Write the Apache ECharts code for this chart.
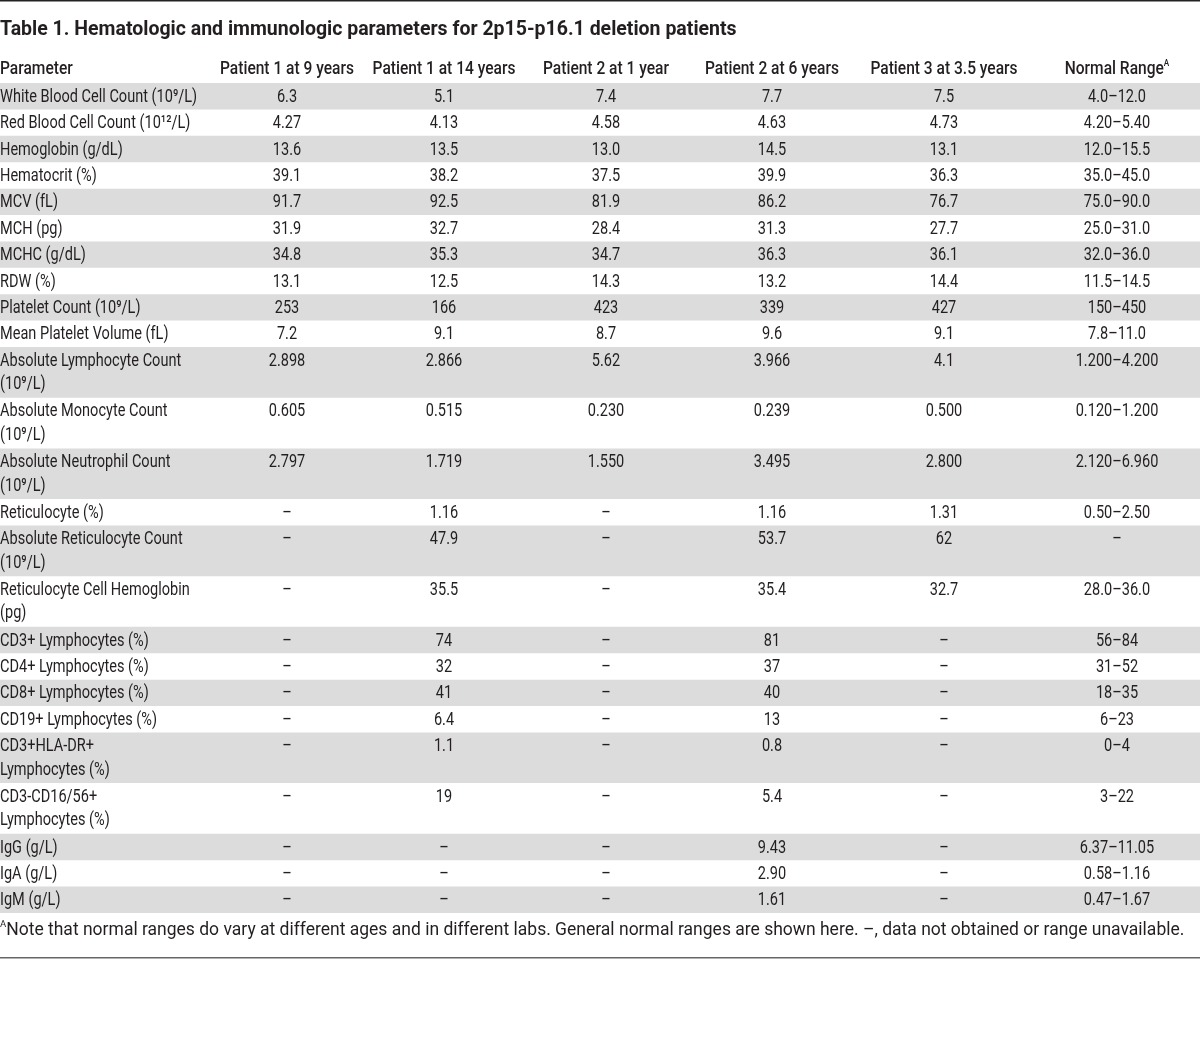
<!DOCTYPE html>
<html><head><meta charset="utf-8">
<script src="https://cdn.jsdelivr.net/npm/echarts/dist/echarts.min.js"></script>
<style>html,body{margin:0;padding:0;background:#fff}#c{width:1200px;height:1050px}</style>
</head><body><div id="c"></div>
<script>
// ---------- data ----------
const titleText = 'Table 1. Hematologic and immunologic parameters for 2p15-p16.1 deletion patients';
const columnHeaders = ['Parameter', 'Patient 1 at 9 years', 'Patient 1 at 14 years', 'Patient 2 at 1 year', 'Patient 2 at 6 years', 'Patient 3 at 3.5 years', 'Normal Range'];
const parameters = [
  'White Blood Cell Count (10\u2079/L)', 'Red Blood Cell Count (10\u00b9\u00b2/L)', 'Hemoglobin (g/dL)', 'Hematocrit (%)',
  'MCV (fL)', 'MCH (pg)', 'MCHC (g/dL)', 'RDW (%)', 'Platelet Count (10\u2079/L)', 'Mean Platelet Volume (fL)',
  'Absolute Lymphocyte Count\n(10\u2079/L)', 'Absolute Monocyte Count\n(10\u2079/L)', 'Absolute Neutrophil Count\n(10\u2079/L)',
  'Reticulocyte (%)', 'Absolute Reticulocyte Count\n(10\u2079/L)', 'Reticulocyte Cell Hemoglobin\n(pg)',
  'CD3+ Lymphocytes (%)', 'CD4+ Lymphocytes (%)', 'CD8+ Lymphocytes (%)', 'CD19+ Lymphocytes (%)',
  'CD3+HLA-DR+\nLymphocytes (%)', 'CD3-CD16/56+\nLymphocytes (%)', 'IgG (g/L)', 'IgA (g/L)', 'IgM (g/L)'
];
const patient1At9 = ['6.3','4.27','13.6','39.1','91.7','31.9','34.8','13.1','253','7.2','2.898','0.605','2.797','–','–','–','–','–','–','–','–','–','–','–','–'];
const patient1At14 = ['5.1','4.13','13.5','38.2','92.5','32.7','35.3','12.5','166','9.1','2.866','0.515','1.719','1.16','47.9','35.5','74','32','41','6.4','1.1','19','–','–','–'];
const patient2At1 = ['7.4','4.58','13.0','37.5','81.9','28.4','34.7','14.3','423','8.7','5.62','0.230','1.550','–','–','–','–','–','–','–','–','–','–','–','–'];
const patient2At6 = ['7.7','4.63','14.5','39.9','86.2','31.3','36.3','13.2','339','9.6','3.966','0.239','3.495','1.16','53.7','35.4','81','37','40','13','0.8','5.4','9.43','2.90','1.61'];
const patient3At35 = ['7.5','4.73','13.1','36.3','76.7','27.7','36.1','14.4','427','9.1','4.1','0.500','2.800','1.31','62','32.7','–','–','–','–','–','–','–','–','–'];
const normalRange = ['4.0–12.0','4.20–5.40','12.0–15.5','35.0–45.0','75.0–90.0','25.0–31.0','32.0–36.0','11.5–14.5','150–450','7.8–11.0','1.200–4.200','0.120–1.200','2.120–6.960','0.50–2.50','–','28.0–36.0','56–84','31–52','18–35','6–23','0–4','3–22','6.37–11.05','0.58–1.16','0.47–1.67'];
const footnoteText = 'Note that normal ranges do vary at different ages and in different labs. General normal ranges are shown here. –, data not obtained or range unavailable.';

// ---------- layout ----------
const columns = [parameters, patient1At9, patient1At14, patient2At1, patient2At6, patient3At35, normalRange];
const COL_X = [0, 287, 444, 606, 772, 944, 1117];
const HEADER_UNITS = 1.1;
const rowUnits = parameters.map(p => p.split('\n').length > 1 ? 1.92 : 1);
const rowTop = [];
let acc = 0;
rowUnits.forEach(u => { rowTop.push(acc); acc += u; });
const TOTAL = acc;
const FONT = "Roboto, 'Noto Sans', sans-serif";
const TEXT_COLOR = '#231f20';
const BODY_SIZE = 18;
const BODY_SCALE = 0.808;
const HEAD_SCALE = 0.864;

function renderItem(params, api) {
  const i = api.value(1);
  const children = [];
  const isHeader = i < 0;
  const tU = isHeader ? -HEADER_UNITS : rowTop[i];
  const hU = isHeader ? HEADER_UNITS : rowUnits[i];
  const top = api.coord([0, tU])[1];
  const bottom = api.coord([0, tU + hU])[1];
  const x0 = api.coord([0, 0])[0];
  const x1 = api.coord([1200, 0])[0];
  if (!isHeader && i % 2 === 0) {
    children.push({ type: 'rect', shape: { x: x0, y: top, width: x1 - x0, height: bottom - top }, style: { fill: '#dcdcdc' } });
  }
  for (let c = 0; c < columns.length; c++) {
    const x = api.coord([COL_X[c], 0])[0];
    if (isHeader) {
      const txt = c === 6 ? '{n|' + columnHeaders[c] + '}{s|A}' : '{n|' + columnHeaders[c] + '}';
      children.push({
        type: 'text', x: x, y: (top + bottom) / 2 + 1, scaleX: HEAD_SCALE,
        style: {
          text: txt, align: c === 0 ? 'left' : 'center', verticalAlign: 'middle',
          rich: {
            n: { fontFamily: FONT, fontSize: 18, fontWeight: 500, fill: TEXT_COLOR, lineHeight: 22 },
            s: { fontFamily: FONT, fontSize: 9.5, fontWeight: 500, fill: TEXT_COLOR, lineHeight: 22, verticalAlign: 'top', padding: [0, 0, 8, 0] }
          }
        }
      });
    } else {
      children.push({
        type: 'text', x: x, y: top + 2.5, scaleX: BODY_SCALE,
        style: {
          text: columns[c][i], align: c === 0 ? 'left' : 'center', verticalAlign: 'top',
          fontFamily: FONT, fontSize: BODY_SIZE, fill: TEXT_COLOR, lineHeight: 23.5
        }
      });
    }
  }
  return { type: 'group', children: children };
}

const rowData = [[0, -1]].concat(parameters.map((p, i) => [0, i]));

const chart = echarts.init(document.getElementById('c'), null, { renderer: 'canvas' });
chart.setOption({
  animation: false,
  backgroundColor: '#fff',
  title: {
    text: titleText, left: 0, top: 20, padding: 0,
    textStyle: { fontFamily: FONT, fontWeight: 'bold', fontSize: 19.5, color: TEXT_COLOR }
  },
  grid: { left: 0, right: 0, top: 54, height: 859 },
  xAxis: { type: 'value', min: 0, max: 1200, show: false },
  yAxis: { type: 'value', min: -HEADER_UNITS, max: TOTAL, inverse: true, show: false },
  series: [{
    type: 'custom', renderItem: renderItem, data: rowData, clip: false, silent: true
  }],
  graphic: [
    { type: 'line', shape: { x1: 0, y1: 0.75, x2: 1200, y2: 0.75 }, style: { stroke: '#222', lineWidth: 1.5 } },
    { type: 'line', shape: { x1: 0, y1: 957.75, x2: 1200, y2: 957.75 }, style: { stroke: '#666', lineWidth: 1.5 } },
    {
      type: 'text', left: 0, top: 920,
      style: {
        text: '{s|A}{n|' + footnoteText + '}',
        rich: {
          n: { fontFamily: FONT, fontSize: 17.5, fill: TEXT_COLOR, lineHeight: 22 },
          s: { fontFamily: FONT, fontSize: 9.5, fill: TEXT_COLOR, lineHeight: 22, verticalAlign: 'top', padding: [0, 0, 8, 0] }
        }
      }
    }
  ]
});
</script>
</body></html>
